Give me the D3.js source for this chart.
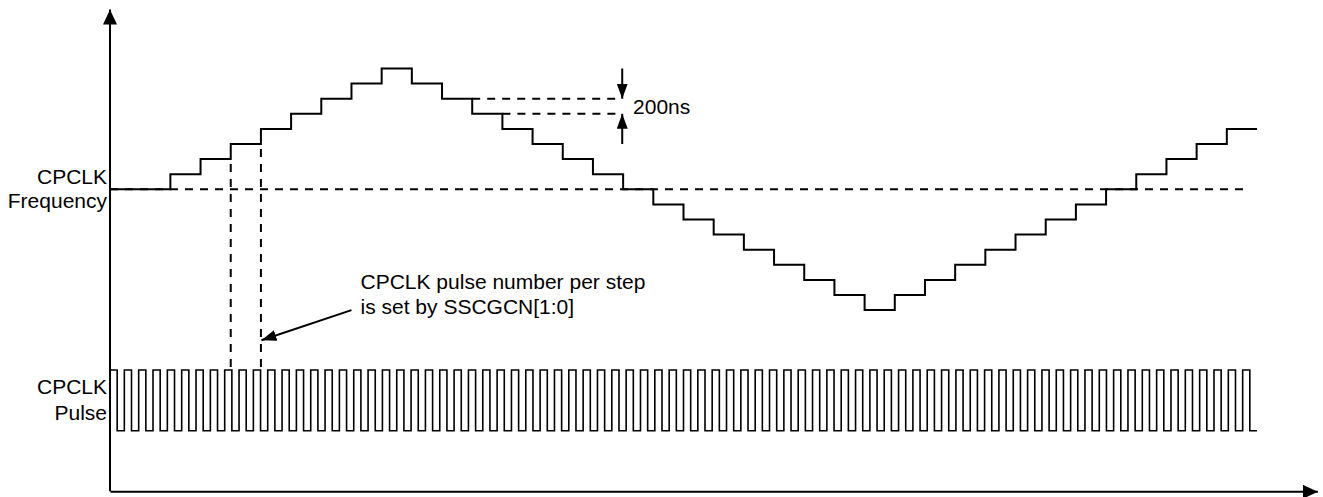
<!DOCTYPE html>
<html>
<head>
<meta charset="utf-8">
<script src="https://cdn.jsdelivr.net/npm/d3@7"></script>
<style>
  html, body { margin: 0; padding: 0; background: #fff; }
  svg { display: block; }
  text { font-family: "Liberation Sans", Arial, Helvetica, sans-serif; font-size: 21px; fill: #000; }
</style>
</head>
<body>
<svg id="chart" width="1323" height="497"></svg>
<script>
// ---- data ----
// frequency level of each modulation step (in 200ns units, 0 = nominal)
const stepLevels = [0, 0, 1, 2, 3, 4, 5, 6, 7, 8, 7, 6, 5, 4, 3, 2, 1, 0, -1, -2,
                    -3, -4, -5, -6, -7, -8, -7, -6, -5, -4, -3, -2, -1, 0, 1, 2, 3, 4];
// clock output, one entry per half period (1 = high, 0 = low): 80 pulses
const pulseLevels = [
  1,0,1,0,1,0,1,0,1,0,1,0,1,0,1,0,1,0,1,0,
  1,0,1,0,1,0,1,0,1,0,1,0,1,0,1,0,1,0,1,0,
  1,0,1,0,1,0,1,0,1,0,1,0,1,0,1,0,1,0,1,0,
  1,0,1,0,1,0,1,0,1,0,1,0,1,0,1,0,1,0,1,0,
  1,0,1,0,1,0,1,0,1,0,1,0,1,0,1,0,1,0,1,0,
  1,0,1,0,1,0,1,0,1,0,1,0,1,0,1,0,1,0,1,0,
  1,0,1,0,1,0,1,0,1,0,1,0,1,0,1,0,1,0,1,0,
  1,0,1,0,1,0,1,0,1,0,1,0,1,0,1,0,1,0,1,0
];
const freqLabel = ["CPCLK", "Frequency"];
const pulseLabel = ["CPCLK", "Pulse"];
const noteLines = ["CPCLK pulse number per step", "is set by SSCGCN[1:0]"];
const stepSizeLabel = "200ns";
const markedSteps = [4, 5];       // step boundaries marked with dashed lines
const stepSizeLevels = [6, 5];    // two adjacent levels showing the step size

// ---- scales ----
const x = d3.scaleLinear().domain([0, stepLevels.length]).range([110, 1257]);
const xp = d3.scaleLinear().domain([0, pulseLevels.length]).range([110, 1257]);
const y = d3.scaleLinear().domain([-8, 8]).range([310.1, 68.5]);
const yp = d3.scaleLinear().domain([0, 1]).range([430.7, 370]);

const svg = d3.select("#chart");

// ---- arrow markers ----
const defs = svg.append("defs");
function marker(id, len, wid) {
  defs.append("marker")
    .attr("id", id)
    .attr("viewBox", `0 0 ${len} ${wid}`)
    .attr("refX", len).attr("refY", wid / 2)
    .attr("markerWidth", len).attr("markerHeight", wid)
    .attr("markerUnits", "userSpaceOnUse")
    .attr("orient", "auto")
    .append("path")
    .attr("d", `M0,0 L${len},${wid / 2} L0,${wid} Z`)
    .attr("fill", "#000");
}
marker("axisHead", 15, 14);
marker("noteHead", 15, 11);

// ---- axes (library axes without ticks) ----
const yBottom = y(-20);
const xAxisScale = d3.scaleLinear().domain([0, 40]).range([x(0), x(40)]);
const gx = svg.append("g").attr("transform", `translate(0,${yBottom})`)
  .call(d3.axisBottom(xAxisScale).tickValues([]).tickSizeOuter(0));
gx.select(".domain").attr("stroke", "#000").attr("stroke-width", 2)
  .attr("marker-end", "url(#axisHead)");

const yAxisScale = d3.scaleLinear().domain([-20, 11.9]).range([y(-20), y(11.9)]);
const gy = svg.append("g").attr("transform", `translate(${x(0)},0)`)
  .call(d3.axisLeft(yAxisScale).tickValues([]).tickSizeOuter(0));
gy.select(".domain").attr("stroke", "#000").attr("stroke-width", 2)
  .attr("d", `M0,${y(-20)}V${y(11.9)}`)
  .attr("marker-end", "url(#axisHead)");

// ---- dashed reference lines ----
const dash = "8,7";
// nominal frequency
svg.append("line")
  .attr("x1", x(0)).attr("x2", x(37.75))
  .attr("y1", y(0)).attr("y2", y(0))
  .attr("stroke", "#000").attr("stroke-width", 2).attr("stroke-dasharray", dash);

// step boundaries dropping to the pulse train
svg.selectAll("line.mark").data(markedSteps).enter().append("line")
  .attr("class", "mark")
  .attr("x1", d => x(d)).attr("x2", d => x(d))
  .attr("y1", d => y(Math.min(stepLevels[d - 1], stepLevels[d])) + 5)
  .attr("y2", yp(1) - 1)
  .attr("stroke", "#000").attr("stroke-width", 2).attr("stroke-dasharray", dash);

// step-size guide lines
svg.selectAll("line.size").data(stepSizeLevels).enter().append("line")
  .attr("class", "size")
  .attr("x1", d => x(stepLevels.indexOf(d, 10) + 1)).attr("x2", x(16.95))
  .attr("y1", d => y(d)).attr("y2", d => y(d))
  .attr("stroke", "#000").attr("stroke-width", 2).attr("stroke-dasharray", dash);

// step-size arrows
svg.append("line")
  .attr("x1", x(16.97)).attr("x2", x(16.97))
  .attr("y1", y(8)).attr("y2", y(stepSizeLevels[0]))
  .attr("stroke", "#000").attr("stroke-width", 2).attr("marker-end", "url(#noteHead)");
svg.append("line")
  .attr("x1", x(16.97)).attr("x2", x(16.97))
  .attr("y1", y(3)).attr("y2", y(stepSizeLevels[1]))
  .attr("stroke", "#000").attr("stroke-width", 2).attr("marker-end", "url(#noteHead)");
svg.append("text")
  .attr("x", x(17.33)).attr("y", y(5))
  .text(stepSizeLabel);

// ---- frequency staircase ----
const stepPts = stepLevels.map((v, i) => [i, v]).concat([[stepLevels.length, stepLevels[stepLevels.length - 1]]]);
svg.append("path")
  .attr("d", d3.line().x(d => x(d[0])).y(d => y(d[1])).curve(d3.curveStepAfter)(stepPts))
  .attr("fill", "none").attr("stroke", "#000").attr("stroke-width", 2);

// ---- clock pulse train ----
const pulsePts = pulseLevels.map((v, i) => [i, v]).concat([[pulseLevels.length, pulseLevels[pulseLevels.length - 1]]]);
svg.append("path")
  .attr("d", d3.line().x(d => xp(d[0])).y(d => yp(d[1])).curve(d3.curveStepAfter)(pulsePts))
  .attr("fill", "none").attr("stroke", "#000").attr("stroke-width", 1.6);

// ---- labels ----
svg.selectAll("text.freq").data(freqLabel).enter().append("text")
  .attr("class", "freq")
  .attr("x", 107).attr("y", (d, i) => 183.5 + i * 24.5)
  .attr("text-anchor", "end").text(d => d);
svg.selectAll("text.pulse").data(pulseLabel).enter().append("text")
  .attr("class", "pulse")
  .attr("x", 107).attr("y", (d, i) => 394 + i * 26)
  .attr("text-anchor", "end").text(d => d);

// ---- note with arrow ----
svg.selectAll("text.note").data(noteLines).enter().append("text")
  .attr("class", "note")
  .attr("x", x(8.3)).attr("y", (d, i) => 288.5 + i * 25)
  .text(d => d);
svg.append("line")
  .attr("x1", x(8)).attr("y1", y(-8))
  .attr("x2", x(markedSteps[1]) + 0.5).attr("y2", y(-10))
  .attr("stroke", "#000").attr("stroke-width", 2).attr("marker-end", "url(#noteHead)");
</script>
</body>
</html>
